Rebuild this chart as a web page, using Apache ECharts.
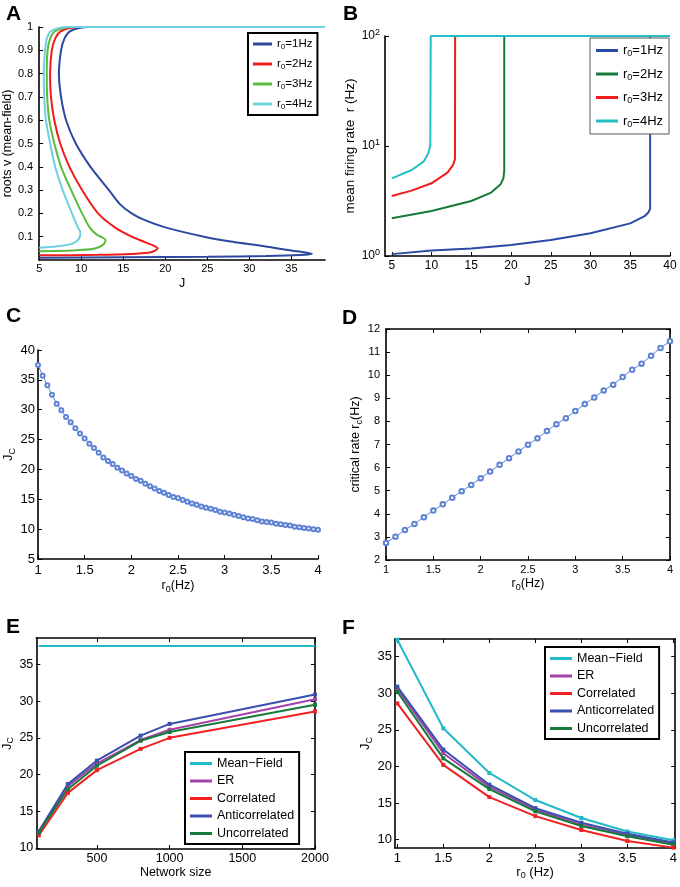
<!DOCTYPE html>
<html><head><meta charset="utf-8">
<script src="https://cdn.jsdelivr.net/npm/echarts@6/dist/echarts.min.js"></script>
<style>html,body{margin:0;padding:0;background:#fff}#c{width:680px;height:887px}</style>
</head><body><div id="c"></div>
<script>
// ---------- Panel A: roots v vs J (pairs [J, v]) ----------
const A_r1 = [[5,0.010],[15,0.012],[25,0.014],[32,0.017],[36,0.021],[37.45,0.027],[36,0.036],[34,0.046],[31.6,0.06],[28,0.078],[24.6,0.1],[20,0.14],[17.5,0.172],[16,0.2],[14.6,0.24],[13.3,0.3],[11.1,0.4],[9.35,0.5],[8.2,0.6],[7.6,0.7],[7.35,0.8],[7.6,0.9],[8.0,0.95],[8.6,0.98],[9.6,0.995],[11,1],[39,1]];
const A_r2 = [[5,0.020],[12,0.022],[16,0.026],[18.3,0.033],[19.1,0.05],[18.6,0.062],[17.5,0.078],[16,0.1],[14,0.14],[12,0.2],[10.1,0.3],[8.6,0.4],[7.5,0.5],[6.8,0.6],[6.4,0.7],[6.3,0.8],[6.5,0.9],[6.9,0.95],[7.5,0.98],[8.5,0.995],[10,1],[39,1]];
const A_r3 = [[5,0.038],[9,0.041],[11.5,0.048],[12.6,0.065],[12.9,0.086],[12.5,0.097],[11.8,0.11],[11,0.14],[10.1,0.2],[8.8,0.3],[7.6,0.4],[6.8,0.5],[6.2,0.6],[5.95,0.7],[5.9,0.8],[6.0,0.9],[6.3,0.95],[6.8,0.98],[7.8,0.995],[9,1],[39,1]];
const A_r4 = [[5,0.053],[7,0.058],[8.8,0.068],[9.7,0.09],[9.9,0.117],[9.6,0.14],[8.9,0.2],[7.8,0.3],[6.9,0.4],[6.3,0.5],[5.8,0.6],[5.6,0.7],[5.55,0.8],[5.7,0.9],[5.9,0.95],[6.3,0.98],[7.2,0.995],[8.5,1],[39,1]];
const A_xticks = [5,10,15,20,25,30,35];
const A_yticks = [0.1,0.2,0.3,0.4,0.5,0.6,0.7,0.8,0.9,1];

// ---------- Panel B: mean firing rate r vs J (pairs [J, r]) ----------
const B_r1 = [[5,1.04],[10,1.12],[15,1.17],[20,1.26],[25,1.4],[30,1.61],[35,1.98],[36.8,2.3],[37.3,2.5],[37.5,2.7],[37.5,100],[40,100]];
const B_r2 = [[5,2.2],[10,2.56],[15,3.16],[17.5,3.77],[18.7,4.5],[19.05,5.1],[19.15,6],[19.15,100],[40,100]];
const B_r3 = [[5,3.51],[7.5,3.93],[10,4.58],[12,5.72],[12.7,6.7],[12.95,7.6],[12.97,100],[40,100]];
const B_r4 = [[5,5.08],[7.5,6.05],[9,7.2],[9.6,8.6],[9.85,10.2],[9.9,100],[40,100]];
const B_xticks = [5,10,15,20,25,30,35,40];

// ---------- Panel C: J_c vs r0 ----------
const C_r0 = [1.00,1.05,1.10,1.15,1.20,1.25,1.30,1.35,1.40,1.45,1.50,1.55,1.60,1.65,1.70,1.75,1.80,1.85,1.90,1.95,2.00,2.05,2.10,2.15,2.20,2.25,2.30,2.35,2.40,2.45,2.50,2.55,2.60,2.65,2.70,2.75,2.80,2.85,2.90,2.95,3.00,3.05,3.10,3.15,3.20,3.25,3.30,3.35,3.40,3.45,3.50,3.55,3.60,3.65,3.70,3.75,3.80,3.85,3.90,3.95,4.00];
const C_Jc = [37.5,35.7,34.1,32.5,31.0,29.9,28.8,27.9,26.9,26.0,25.2,24.3,23.6,22.8,22.0,21.4,20.9,20.3,19.8,19.3,18.9,18.4,18.1,17.6,17.2,16.8,16.4,16.1,15.7,15.4,15.2,14.9,14.6,14.3,14.1,13.8,13.6,13.4,13.2,12.9,12.8,12.6,12.4,12.2,12.0,11.8,11.7,11.5,11.3,11.2,11.1,10.9,10.8,10.7,10.6,10.4,10.3,10.2,10.1,10.0,9.9];
const C_xticks = [1,1.5,2,2.5,3,3.5,4];
const C_yticks = [5,10,15,20,25,30,35,40];

// ---------- Panel D: critical rate r_c vs r0 ----------
const D_r0 = [1.0,1.1,1.2,1.3,1.4,1.5,1.6,1.7,1.8,1.9,2.0,2.1,2.2,2.3,2.4,2.5,2.6,2.7,2.8,2.9,3.0,3.1,3.2,3.3,3.4,3.5,3.6,3.7,3.8,3.9,4.0];
const D_rc = [2.74,3.01,3.30,3.56,3.85,4.14,4.41,4.70,4.98,5.25,5.54,5.83,6.12,6.41,6.70,6.99,7.27,7.58,7.88,8.14,8.45,8.75,9.04,9.34,9.59,9.92,10.24,10.50,10.84,11.18,11.47];
const D_xticks = [1,1.5,2,2.5,3,3.5,4];
const D_yticks = [2,3,4,5,6,7,8,9,10,11,12];

// ---------- Panel E: J_c vs network size ----------
const E_N = [100,300,500,800,1000,2000];
const E_meanField = [37.5,37.5,37.5,37.5,37.5,37.5];
const E_ER = [12.0,18.4,21.5,24.7,26.1,30.25];
const E_corr = [11.7,17.5,20.6,23.5,25.0,28.6];
const E_anti = [12.26,18.7,21.9,25.3,26.9,30.9];
const E_uncorr = [12.1,18.0,21.2,24.6,25.8,29.5];
const E_xticks = [500,1000,1500,2000];
const E_yticks = [10,15,20,25,30,35];

// ---------- Panel F: J_c vs r0 ----------
const F_r0 = [1,1.5,2,2.5,3,3.5,4];
const F_meanField = [37.3,25.2,19.1,15.4,12.95,11.1,9.9];
const F_ER = [30.6,21.8,17.2,14.1,12.0,10.6,9.45];
const F_corr = [28.6,20.2,15.8,13.2,11.3,9.8,8.9];
const F_anti = [30.9,22.3,17.5,14.3,12.3,10.8,9.6];
const F_uncorr = [30.2,21.1,16.9,13.85,11.85,10.45,9.3];
const F_xticks = [1,1.5,2,2.5,3,3.5,4];
const F_yticks = [10,15,20,25,30,35];

const FF = "'Liberation Sans', Arial, Helvetica, sans-serif";
const zip = (xs, ys) => xs.map((x, i) => [x, ys[i]]);
function rich(fs) {
  return {
    n: {fontSize: fs, fontFamily: FF, color: '#000'},
    s: {fontSize: Math.round(fs * 0.72), fontFamily: FF, color: '#000', padding: [Math.round(fs * 0.55), 0, 0, 0]},
    e: {fontSize: Math.round(fs * 0.72), fontFamily: FF, color: '#000', padding: [0, 0, Math.round(fs * 0.6), 0]}
  };
}
function axis(dim, g, p) {
  return {
    gridIndex: g, type: p.type || 'value', position: p.pos, min: p.min, max: p.max,
    logBase: p.logBase,
    splitLine: {show: false},
    axisLine: {show: true, onZero: false, lineStyle: {color: '#000', width: p.lw || 1.6}},
    axisTick: {show: true, inside: true, length: 4, lineStyle: {color: '#000', width: 1}, customValues: p.ticks},
    axisLabel: {show: p.labels !== false, color: '#000', fontFamily: FF, fontSize: p.fs, margin: p.margin,
      customValues: p.ticks, formatter: p.fmt || (v => '' + v), rich: rich(p.fs || 12)},
    name: p.name, nameLocation: 'middle', nameGap: p.nameGap, nameRotate: dim === 'y' ? 90 : 0,
    nameTextStyle: {color: '#000', fontFamily: FF, fontSize: p.nameFs || 12, rich: rich(p.nameFs || 12)}
  };
}
const grids = [
  {left: 38, top: 27, width: 287, height: 233},
  {left: 385, top: 36, width: 285, height: 220},
  {left: 38, top: 350, width: 280, height: 209},
  {left: 386, top: 329, width: 284, height: 231},
  {left: 35, top: 638, width: 280, height: 211},
  {left: 395, top: 639, width: 281, height: 209}
];
const xAxes = [
  axis('x', 0, {min: 5, max: 39, ticks: A_xticks, fs: 11, margin: 3, name: 'J', nameGap: 17, nameFs: 12.5}),
  axis('x', 1, {min: 4.15, max: 40, ticks: B_xticks, fs: 12, margin: 4, name: 'J', nameGap: 19, nameFs: 13}),
  axis('x', 2, {min: 1, max: 4, ticks: C_xticks, fs: 13, margin: 5, name: '{n|r}{s|0}{n|(Hz)}', nameGap: 19, nameFs: 12.5}),
  axis('x', 3, {min: 1, max: 4, ticks: D_xticks, fs: 11, margin: 4, name: '{n|r}{s|0}{n|(Hz)}', nameGap: 16, nameFs: 12.5}),
  axis('x', 4, {min: 83, max: 2000, ticks: E_xticks, fs: 12.5, margin: 3, name: 'Network size', nameGap: 17, nameFs: 12.5}),
  axis('x', 5, {min: 0.975, max: 4.02, ticks: F_xticks, fs: 13, margin: 4, name: '{n|r}{s|0}{n| (Hz)}', nameGap: 15, nameFs: 13}),
  axis('x', 3, {min: 1, max: 4, ticks: D_xticks, pos: 'top', labels: false}),
  axis('x', 4, {min: 83, max: 2000, ticks: E_xticks, pos: 'top', labels: false}),
  axis('x', 5, {min: 0.975, max: 4.02, ticks: F_xticks, pos: 'top', labels: false})
];
const yAxes = [
  axis('y', 0, {min: 0, max: 1, ticks: A_yticks, fs: 11, margin: 6, name: 'roots v (mean-field)', nameGap: 19, nameFs: 12.5}),
  axis('y', 1, {type: 'log', logBase: 10, min: 1, max: 100, fs: 12, margin: 5, name: 'mean firing rate  r (Hz)', nameGap: 25, nameFs: 13.5,
    fmt: v => '{n|10}{e|' + Math.round(Math.log10(v)) + '}'}),
  axis('y', 2, {min: 5, max: 40, ticks: C_yticks, fs: 13, margin: 3, name: '{n|J}{s|C}', nameGap: 18, nameFs: 13}),
  axis('y', 3, {min: 2, max: 12, ticks: D_yticks, fs: 11, margin: 6, name: '{n|critical rate r}{s|c}{n|(Hz)}', nameGap: 19, nameFs: 12.5}),
  axis('y', 4, {min: 9.86, max: 38.6, ticks: E_yticks, fs: 12.5, margin: 3, name: '{n|J}{s|C}', nameGap: 18, nameFs: 13}),
  axis('y', 5, {min: 8.85, max: 37.4, ticks: F_yticks, fs: 13, margin: 3, name: '{n|J}{s|C}', nameGap: 21, nameFs: 13}),
  axis('y', 3, {min: 2, max: 12, ticks: D_yticks, pos: 'right', labels: false}),
  axis('y', 4, {min: 9.86, max: 38.6, ticks: E_yticks, pos: 'right', labels: false}),
  axis('y', 5, {min: 8.85, max: 37.4, ticks: F_yticks, pos: 'right', labels: false})
];

function line(name, g, data, color, extra) {
  return Object.assign({
    name: name, type: 'line', xAxisIndex: g, yAxisIndex: g, data: data,
    symbol: 'none', lineStyle: {color: color, width: 2}, itemStyle: {color: color},
    animation: false, clip: true
  }, extra || {});
}
const cA = ['#2b4a9f', '#f01c1c', '#5cba3c', '#6fd0e2'];
const cB = ['#2b4aa3', '#17793a', '#f01c1c', '#22c0c4'];
const cE = {mf: '#22b9c9', er: '#a443a9', corr: '#f22222', anti: '#3a4fae', unc: '#17793a'};
const mk = {symbol: 'rect', symbolSize: 4};
const circ = c => ({symbol: 'emptyCircle', symbolSize: 4, lineStyle: {color: c, width: 1}, itemStyle: {color: c, borderWidth: 1}});

const series = [
  line('a1', 0, A_r1, cA[0], {smooth: 0.25}),
  line('a2', 0, A_r2, cA[1], {smooth: 0.25}),
  line('a3', 0, A_r3, cA[2], {smooth: 0.25}),
  line('a4', 0, A_r4, cA[3], {smooth: 0.25}),
  line('b1', 1, B_r1, cB[0]),
  line('b2', 1, B_r2, cB[1]),
  line('b3', 1, B_r3, cB[2]),
  line('b4', 1, B_r4, cB[3]),
  line('c', 2, zip(C_r0, C_Jc), '#5f83d4', circ('#5f83d4')),
  line('d', 3, zip(D_r0, D_rc), '#5f83d4', Object.assign(circ('#5f83d4'), {symbolSize: 4.5})),
  line('eER', 4, zip(E_N, E_ER), cE.er, mk),
  line('eC', 4, zip(E_N, E_corr), cE.corr, mk),
  line('eA', 4, zip(E_N, E_anti), cE.anti, mk),
  line('eU', 4, zip(E_N, E_uncorr), cE.unc, mk),
  line('eMF', 4, zip(E_N, E_meanField), cE.mf, {symbol: 'none'}),
  line('fMF', 5, zip(F_r0, F_meanField), cE.mf, mk),
  line('fER', 5, zip(F_r0, F_ER), cE.er, mk),
  line('fA', 5, zip(F_r0, F_anti), cE.anti, mk),
  line('fU', 5, zip(F_r0, F_uncorr), cE.unc, mk),
  line('fC', 5, zip(F_r0, F_corr), cE.corr, mk)
];

const names = {
  a1: '{n|r}{s|0}{n|=1Hz}', a2: '{n|r}{s|0}{n|=2Hz}', a3: '{n|r}{s|0}{n|=3Hz}', a4: '{n|r}{s|0}{n|=4Hz}',
  b1: '{n|r}{s|0}{n|=1Hz}', b2: '{n|r}{s|0}{n|=2Hz}', b3: '{n|r}{s|0}{n|=3Hz}', b4: '{n|r}{s|0}{n|=4Hz}',
  eMF: 'Mean\u2212Field', eER: 'ER', eC: 'Correlated', eA: 'Anticorrelated', eU: 'Uncorrelated',
  fMF: 'Mean\u2212Field', fER: 'ER', fC: 'Correlated', fA: 'Anticorrelated', fU: 'Uncorrelated'
};
function legend(data, left, top, fs, gap, bw, bc, pad, iw) {
  return {
    data: data, left: left, top: top, orient: 'vertical', icon: 'rect', itemWidth: iw || 22, itemHeight: 3,
    itemGap: gap, padding: pad, borderColor: bc, borderWidth: bw, backgroundColor: '#fff',
    formatter: n => names[n], selectedMode: false,
    textStyle: {fontSize: fs, fontFamily: FF, color: '#000', rich: rich(fs)}
  };
}
const legends = [
  legend(['a1', 'a2', 'a3', 'a4'], 248, 33, 11.5, 7, 2, '#000', [5, 5, 4, 5], 19),
  legend(['b1', 'b2', 'b3', 'b4'], 590, 38, 13, 9, 1, '#555', [6, 6, 5, 6], 22),
  legend(['eMF', 'eER', 'eC', 'eA', 'eU'], 185, 752, 12.5, 4.5, 2, '#000', [5, 5, 4, 5], 22),
  legend(['fMF', 'fER', 'fC', 'fA', 'fU'], 545, 647, 12.5, 4.5, 2, '#000', [5, 5, 4, 5], 22)
];
const letter = (t, x, y) => ({type: 'text', left: x, top: y, style: {text: t, font: 'bold 21px ' + FF, fill: '#000'}});

const chart = echarts.init(document.getElementById('c'), null, {renderer: 'canvas'});
chart.setOption({
  animation: false,
  backgroundColor: '#fff',
  grid: grids,
  xAxis: xAxes,
  yAxis: yAxes,
  legend: legends,
  series: series,
  graphic: [letter('A', 6, 4), letter('B', 343, 4), letter('C', 6, 306), letter('D', 342, 308), letter('E', 6, 617), letter('F', 342, 618)]
});
</script></body></html>
